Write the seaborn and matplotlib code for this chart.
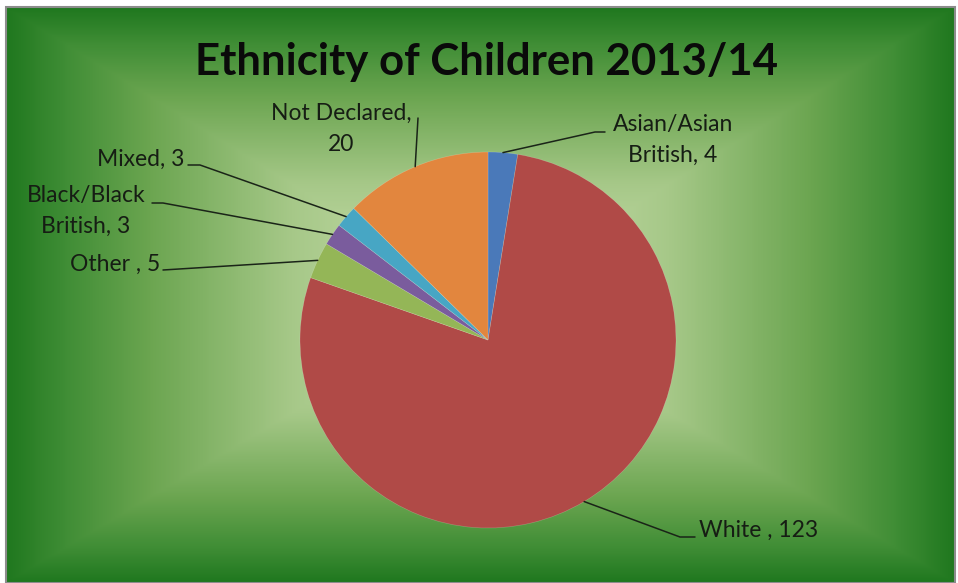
import numpy as np
import matplotlib
matplotlib.use("Agg")
import matplotlib.pyplot as plt
import seaborn as sns
from matplotlib.colors import LinearSegmentedColormap

# ---- data ----
categories = ["Asian/Asian\nBritish", "White ", "Other ", "Black/Black\nBritish", "Mixed", "Not Declared"]
values = [4, 123, 5, 3, 3, 20]
colors = ["#4a79b9", "#b04a47", "#94b657", "#7a5c9d", "#47a6c4", "#e2863e"]
title = "Ethnicity of Children 2013/14"

sns.set_theme(style="white")
plt.rcParams["font.family"] = ["Lato", "DejaVu Sans"]

W, H = 958, 583
fig = plt.figure(figsize=(W / 100, H / 100), dpi=100)
fig.patch.set_facecolor("white")
ax = fig.add_axes([0, 0, 1, 1])

def Y(y):
    return H - y

# ---- background: rectangular gradient ----
x0, x1, ytop, ybot = 6, 955, 7, 583
nx, ny = 480, 290
gx = np.linspace(-1, 1, nx)
gy = np.linspace(-1, 1, ny)
GX, GY = np.meshgrid(gx, gy)
cxo, cyo = 0.0, 0.02
t = np.maximum(np.abs(GX - cxo) / (1 - cxo * np.sign(GX - cxo)),
               np.abs(GY - cyo) / (1 - cyo * np.sign(GY - cyo)))
t = np.clip(t, 0, 1)
cmap = LinearSegmentedColormap.from_list(
    "bg", [(0, "#cfe3b3"), (0.4, "#a6c888"), (0.7, "#6ba550"), (0.88, "#3f8d35"), (1.0, "#20781f")])
ax.imshow(t, cmap=cmap, vmin=0, vmax=1, extent=[x0, x1, Y(ybot), Y(ytop)],
          aspect="auto", zorder=0, interpolation="bilinear")
ax.add_patch(plt.Rectangle((x0, Y(ybot)), x1 - x0, ybot - ytop, fill=False,
                           edgecolor="#8c8c8c", linewidth=1.5, zorder=1))

# ---- pie ----
cx, cy, r = 488, 340, 188
wedges, _ = ax.pie(values, colors=colors, startangle=90, counterclock=False,
                   center=(cx, Y(cy)), radius=r,
                   wedgeprops=dict(linewidth=0.4, edgecolor=(1, 1, 1, 0.25)))
for w in wedges:
    w.set_zorder(2)

ax.set_xlim(0, W)
ax.set_ylim(0, H)
ax.set_aspect("auto")
ax.axis("off")

# ---- labels ----
lab_fs = 16.5
txt_col = "#161d14"
# (text x, text y, ha, leader path start points) in image pixels
label_pos = [
    (673, 140, "center", [(605, 132), (595, 132)]),
    (699, 530, "left", [(695, 537), (680, 537)]),
    (160, 264, "right", [(163, 270)]),
    (86, 211, "center", [(152, 203), (163, 203)]),
    (184, 159, "right", [(188, 165), (200, 165)]),
    (341, 129, "center", [(418, 118)]),
]
for w, cat, val, (tx, ty, ha, pts) in zip(wedges, categories, values, label_pos):
    mid = np.deg2rad((w.theta1 + w.theta2) / 2)
    ex, ey = cx + r * np.cos(mid), Y(cy) + r * np.sin(mid)
    if cat == "Not Declared":
        text = f"{cat},\n{val}"
    else:
        text = f"{cat}, {val}"
    ax.text(tx, Y(ty), text, ha=ha, va="center", fontsize=lab_fs, color=txt_col,
            linespacing=1.55, zorder=4)
    xs = [p[0] for p in pts] + [ex]
    ys = [Y(p[1]) for p in pts] + [ey]
    ax.plot(xs, ys, color="#1a2418", linewidth=1.1, zorder=3)

# ---- title ----
ax.text(487, Y(62), title, ha="center", va="center", fontsize=31.5,
        fontweight="bold", color="#0a0a0a", zorder=4)

fig.savefig("out.png", dpi=100)
